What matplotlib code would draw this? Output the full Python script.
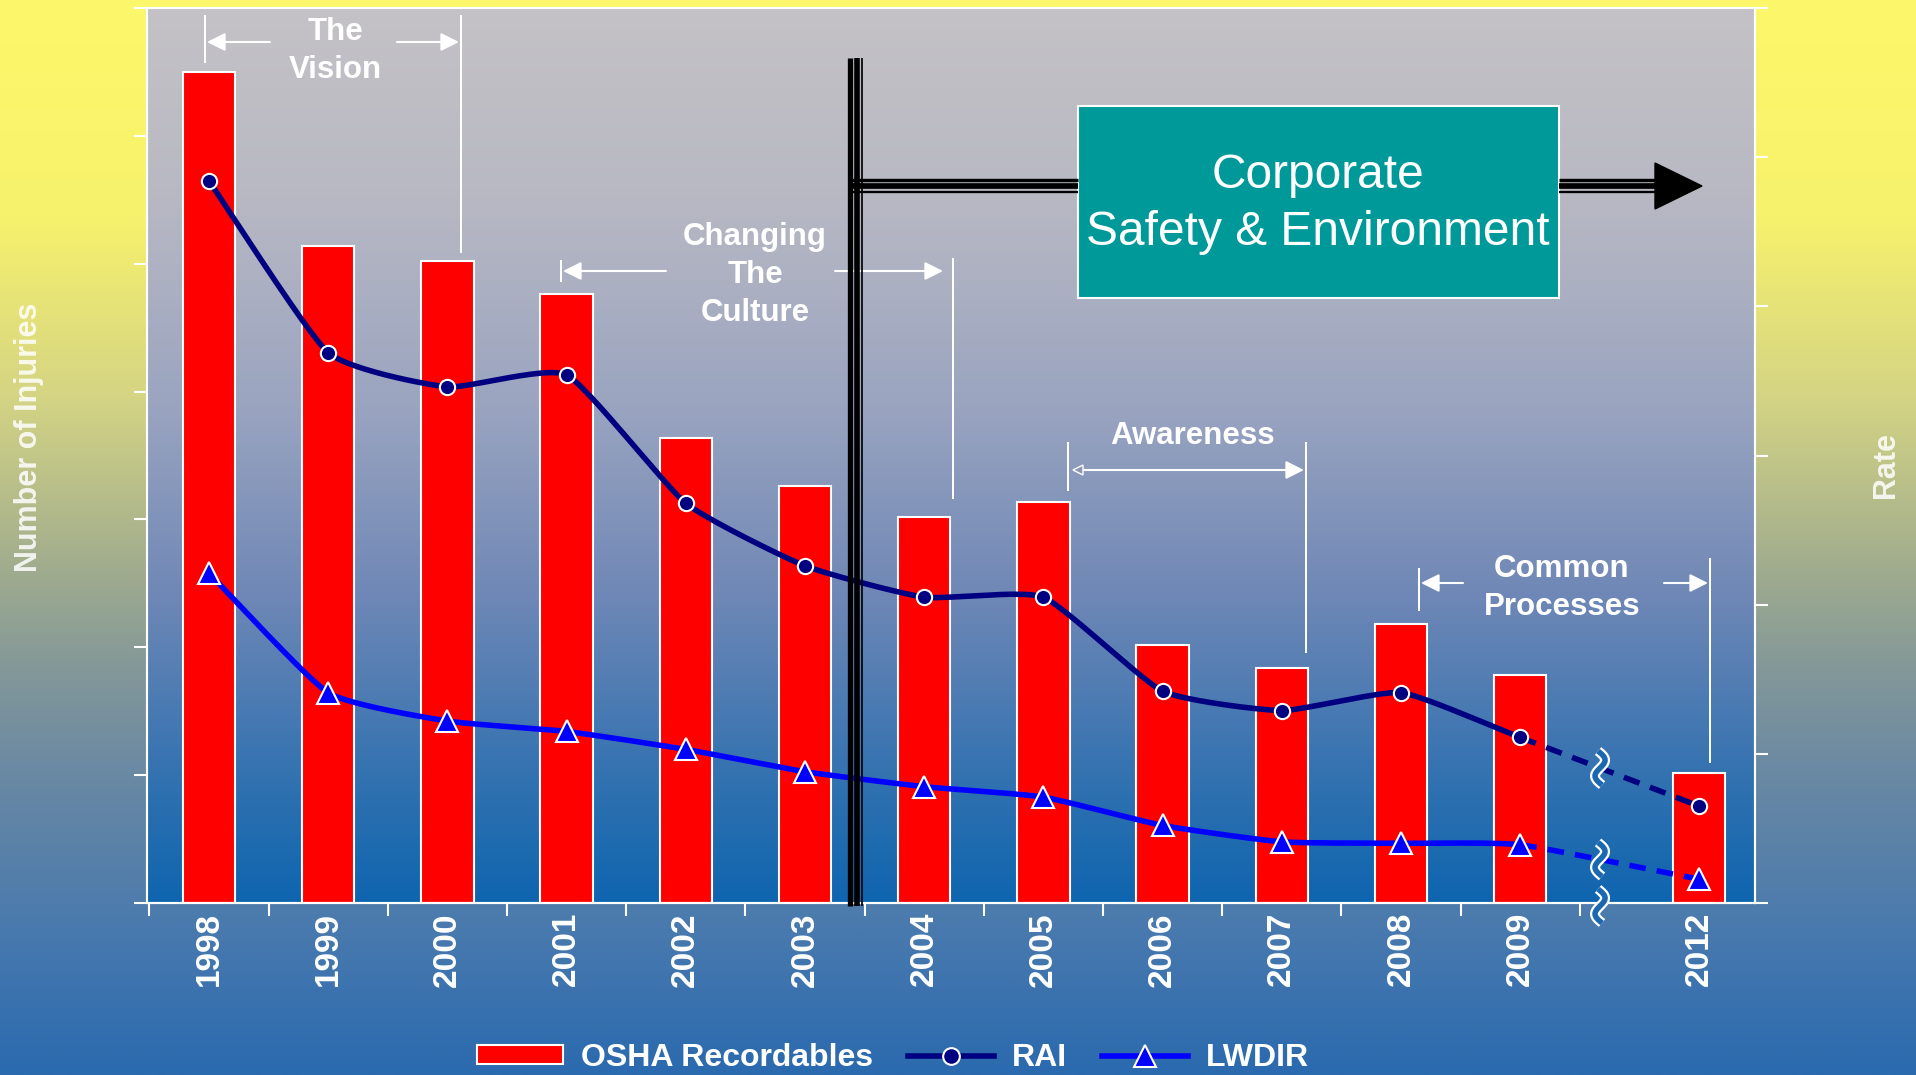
import numpy as np
import matplotlib
matplotlib.use('Agg')
import matplotlib.pyplot as plt
from matplotlib.lines import Line2D
from matplotlib.patches import Rectangle, Polygon, FancyArrowPatch, Patch

plt.rcParams['font.family'] = 'Liberation Sans'

years = ['1998', '1999', '2000', '2001', '2002', '2003', '2004',
         '2005', '2006', '2007', '2008', '2009', '2012']
osha = [325, 257, 251, 238, 182, 163, 151, 157, 101, 92, 109, 89, 51]
rai = [4.84, 3.69, 3.46, 3.54, 2.68, 2.26, 2.05, 2.05, 1.42, 1.29, 1.41, 1.11, 0.65]
lwdir = [2.21, 1.41, 1.22, 1.15, 1.03, 0.88, 0.78, 0.71, 0.52, 0.41, 0.40, 0.39, 0.16]

W, H = 1916, 1075
RED, NAVY, BLUE = '#ff0000', '#000080', '#0000ff'


def fx(x):
    return x / W


def fy(y):
    return 1 - y / H


def gradient(stops, n=512):
    t = np.linspace(0, 1, n)
    s = np.array([p[0] for p in stops])
    cols = np.array([p[1] for p in stops]) / 255.0
    img = np.stack([np.interp(t, s, cols[:, k]) for k in range(3)], axis=-1)
    return img[:, None, :]


def smooth(x, y, k=0.5, n=30):
    # cardinal spline through the points, tighter than catmull-rom
    pts = np.column_stack([x, y])
    P = np.vstack([2 * pts[0] - pts[1], pts, 2 * pts[-1] - pts[-2]])
    t = np.linspace(0, 1, n)[:, None]
    h00, h10 = 2 * t ** 3 - 3 * t ** 2 + 1, t ** 3 - 2 * t ** 2 + t
    h01, h11 = -2 * t ** 3 + 3 * t ** 2, t ** 3 - t ** 2
    out = []
    for i in range(1, len(P) - 2):
        p0, p1, p2, p3 = P[i - 1], P[i], P[i + 1], P[i + 2]
        m1, m2 = k * (p2 - p0) / 2, k * (p3 - p1) / 2
        seg = h00 * p1 + h10 * m1 + h01 * p2 + h11 * m2
        out.append(seg if i == 1 else seg[1:])
    return np.vstack(out)


def pline(xs, ys, color='white', lw=2, **kw):
    fig.add_artist(Line2D([fx(v) for v in xs], [fy(v) for v in ys], transform=fig.transFigure,
                          color=color, lw=lw * 0.72, solid_capstyle='butt', **kw))


def arrow(x0, y, x1):
    fig.add_artist(FancyArrowPatch((fx(x0), fy(y)), (fx(x1), fy(y)), transform=fig.transFigure,
                                   arrowstyle='-|>,head_length=0.5,head_width=0.25',
                                   mutation_scale=22, color='white', lw=1.5,
                                   shrinkA=0, shrinkB=0))


fig = plt.figure(figsize=(W / 100, H / 100), dpi=100)

# page background
bg = fig.add_axes([0, 0, 1, 1], zorder=-1)
bg.imshow(gradient([(0.0, (253, 247, 106)), (0.2, (247, 242, 108)), (0.37, (212, 212, 132)),
                    (0.53, (160, 172, 142)), (0.62, (132, 152, 152)), (0.71, (108, 138, 162)),
                    (0.86, (74, 122, 174)), (1.0, (42, 106, 174))]),
          aspect='auto', extent=[0, 1, 0, 1])
bg.axis('off')

rect = [fx(147), fy(903), (1755 - 147) / W, (903 - 8) / H]
pa = fig.add_axes(rect, zorder=-0.5)
pa.imshow(gradient([(0.0, (196, 194, 198)), (0.2, (185, 185, 195)), (0.44, (155, 165, 192)),
                    (0.66, (110, 135, 182)), (0.88, (45, 112, 176)), (1.0, (14, 101, 175))]),
          aspect='auto', extent=[0, 1, 0, 1])
pa.axis('off')

ax = fig.add_axes(rect)
ax.patch.set_visible(False)
ax2 = ax.twinx()

pos = np.arange(len(years), dtype=float)
pos[-1] += 0.5  # gap for the axis break before 2012

ax.bar(pos, osha, width=0.44, color=RED, edgecolor='white', linewidth=1.5, zorder=2)

for vals, col, mk, ms in [(rai, NAVY, 'o', 11), (lwdir, BLUE, '^', 16)]:
    c = smooth(pos, vals)
    solid = c[:, 0] <= pos[-2] + 1e-9
    dash = c[:, 0] >= pos[-2] - 1e-9
    ax2.plot(c[solid, 0], c[solid, 1], color=col, lw=4, solid_capstyle='round', zorder=3)
    ax2.plot(c[dash, 0], c[dash, 1], color=col, lw=4, ls=(0, (3, 2)), zorder=3)
    ax2.plot(pos, vals, ls='none', marker=mk, ms=ms, mfc=col, mec='white', mew=1.5, zorder=4)

ax.set_xlim(-0.52, 12.97)
ax.set_ylim(0, 350)
ax2.set_ylim(0, 6)
ax.set_xticks(pos)
ax.set_xticklabels(years, rotation=90, fontsize=24, fontweight='bold', color='white')
ax.set_xticks(np.arange(-0.5, 12, 1), minor=True)
ax.tick_params(axis='x', which='major', length=0, pad=6.5)
ax.tick_params(axis='x', which='minor', length=9.4, width=1.5, color='white')
ax.set_yticks(np.arange(0, 351, 50))
ax.tick_params(axis='y', length=9.4, width=1.5, color='white', labelleft=False)
ax2.set_yticks(range(7))
ax2.tick_params(axis='y', length=9.4, width=1.5, color='white', labelright=False)
for a in (ax, ax2):
    for sp in a.spines.values():
        sp.set_color('white')
        sp.set_linewidth(1.5)

# axis break marks
fig.canvas.draw()


def wave(xc, yc):
    t = np.linspace(0, 1, 40)
    ys = yc - 17 + 34 * t
    xs = xc + 6 * np.sin(2 * np.pi * t) + 4 * (t - 0.5)
    pline(xs, ys, color='white', lw=10, zorder=5)
    pline(xs, ys, color='#1a68b0', lw=5.5, zorder=5)


xb = pos[-2] + 0.67
for vals in (rai, lwdir):
    c = smooth(pos, vals)
    yb = np.interp(xb, c[:, 0], c[:, 1])
    d = ax2.transData.transform((xb, yb))
    wave(d[0], H - d[1])
d = ax2.transData.transform((xb, 0))
wave(d[0], H - d[1] + 3)

# phase separator and corporate arrow
for xc, w in [(849.7, 5.3), (856.5, 5.6), (862.1, 1.7)]:
    pline([xc, xc], [58, 906], color='black', lw=w)
for yc, w in [(180, 3.4), (186.2, 5.7), (192.1, 2.3)]:
    pline([850, 1078], [yc, yc], color='black', lw=w)
    pline([1559, 1657], [yc, yc], color='black', lw=w)
fig.add_artist(Polygon([(fx(1655), fy(163)), (fx(1702), fy(186)), (fx(1655), fy(209))],
                       closed=True, transform=fig.transFigure, color='black'))
fig.add_artist(Rectangle((fx(1078), fy(298)), (1559 - 1078) / W, (298 - 106) / H,
                         transform=fig.transFigure, facecolor='#009999',
                         edgecolor='white', lw=1.5))
fig.text(fx(1318), fy(204), 'Corporate\nSafety & Environment', ha='center', va='center',
         fontsize=34.5, color='white', linespacing=1.32)

# phase brackets
bold = dict(ha='center', va='center', fontsize=22.5, fontweight='bold', color='white',
            linespacing=1.36)
fig.text(fx(335), fy(51), 'The\nVision', **bold)
pline([205, 205], [15, 63])
pline([461, 461], [15, 253])
arrow(270, 42, 207)
arrow(397, 42, 459)

fig.text(fx(755), fy(275), 'Changing\nThe\nCulture', **bold)
pline([561, 561], [260, 282])
pline([953, 953], [258, 499])
arrow(666, 271, 563)
arrow(835, 271, 943)

fig.text(fx(1193), fy(436), 'Awareness', **bold)
pline([1068, 1068], [442, 491])
pline([1306, 1306], [442, 653])
arrow(1082, 470, 1304)
fig.add_artist(Polygon([(fx(1073), fy(470)), (fx(1083), fy(465)), (fx(1083), fy(475))],
                       closed=True, transform=fig.transFigure, facecolor='#8a96b4',
                       edgecolor='white', lw=1))

fig.text(fx(1562), fy(588), 'Common\nProcesses', **bold)
pline([1419, 1419], [568, 611])
pline([1710, 1710], [558, 763])
arrow(1463, 583, 1421)
arrow(1664, 583, 1708)

# axis titles
fig.text(fx(29), fy(437), 'Number of Injuries', rotation=90, ha='center', va='center',
         fontsize=22, fontweight='bold', color='white', alpha=0.85)
fig.text(fx(1886), fy(465), 'Rate', rotation=90, ha='center', va='center',
         fontsize=22, fontweight='bold', color='white', alpha=0.85)

handles = [Patch(facecolor=RED, edgecolor='white', lw=1.5),
           Line2D([], [], color=NAVY, lw=4, marker='o', ms=12, mfc=NAVY, mec='white', mew=1.5),
           Line2D([], [], color=BLUE, lw=4, marker='^', ms=16, mfc=BLUE, mec='white', mew=1.5)]
fig.legend(handles, ['OSHA Recordables', 'RAI', 'LWDIR'], loc='center',
           bbox_to_anchor=(fx(893), fy(1058)), ncol=3, frameon=False,
           prop={'weight': 'bold', 'size': 23}, labelcolor='white',
           handlelength=2.7, handleheight=0.55, handletextpad=0.55,
           columnspacing=1.1, borderpad=0)

fig.savefig('out.png', dpi=100)
